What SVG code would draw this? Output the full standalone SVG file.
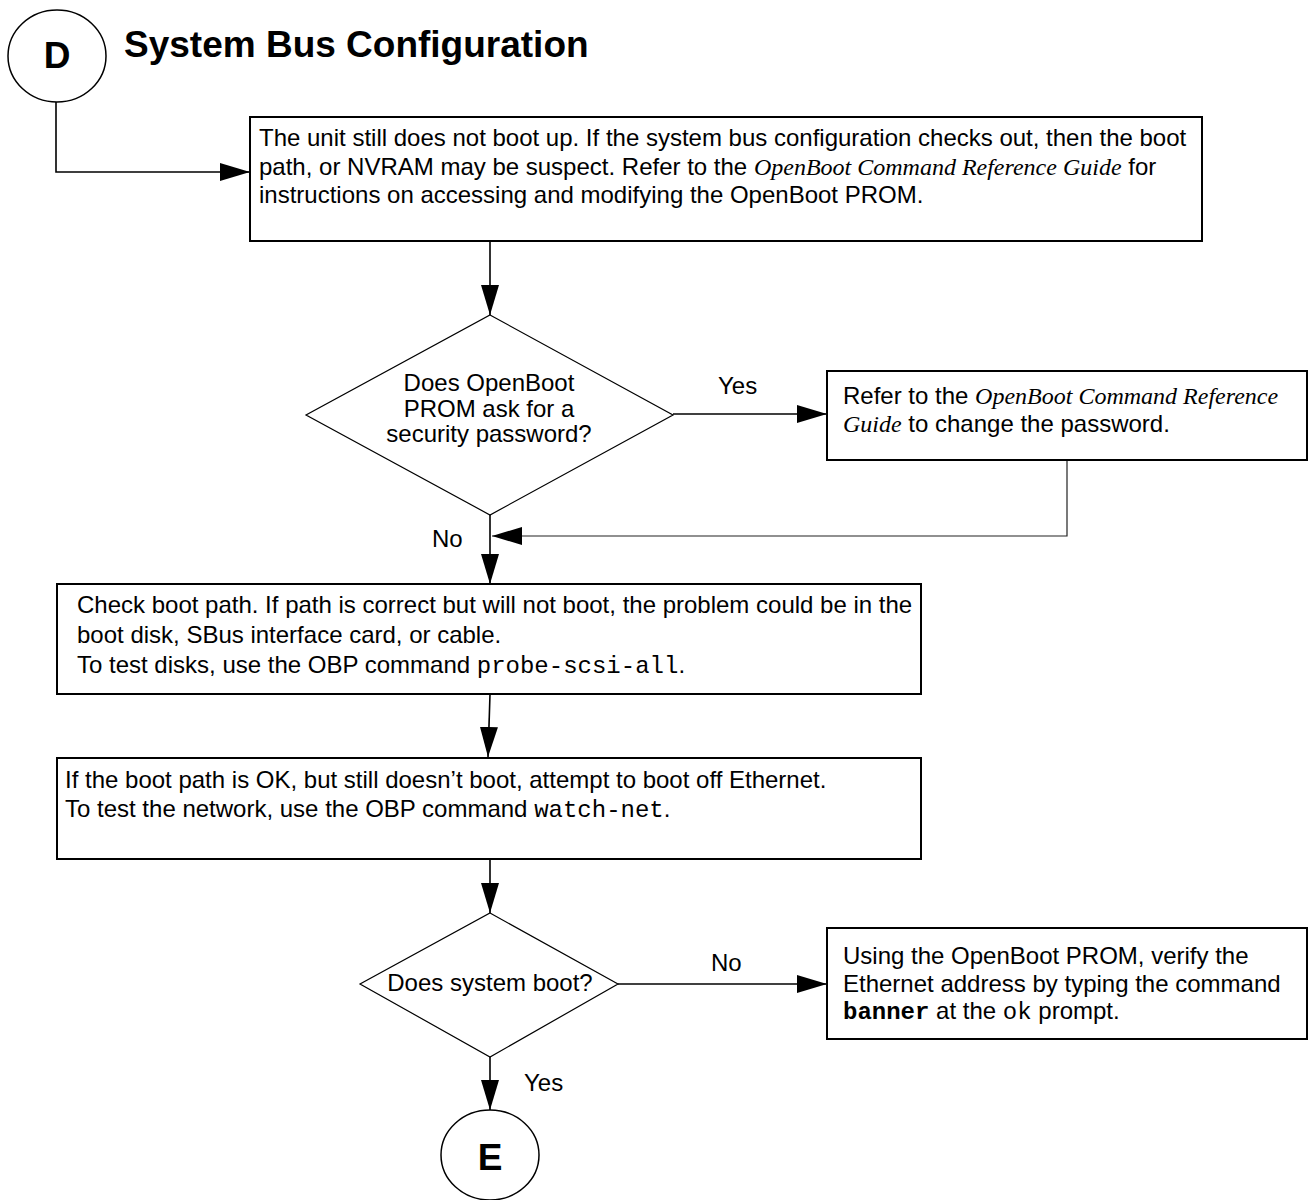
<svg xmlns="http://www.w3.org/2000/svg" width="1309" height="1200" viewBox="0 0 1309 1200">
<style>
.t{font-family:"Liberation Sans",Arial,Helvetica,sans-serif;font-size:24px;fill:#000}
.it{font-family:"Liberation Serif","Times New Roman",serif;font-style:italic}
.mono{font-family:"Liberation Mono","Courier New",monospace}
.b{font-weight:bold}
.box{fill:#fff;stroke:#000;stroke-width:2}
.dia{fill:#fff;stroke:#000;stroke-width:1.2}
.circ{fill:#fff;stroke:#000;stroke-width:1.5}
.big{font-family:"Liberation Sans",Arial,Helvetica,sans-serif;font-weight:bold;font-size:37px;fill:#000}
.con{fill:none;stroke:#000;stroke-width:1.6}
.thin{fill:none;stroke:#222;stroke-width:1.2}
</style>
<defs>
<marker id="ah" markerUnits="userSpaceOnUse" viewBox="0 0 30 18" refX="30" refY="9" markerWidth="30" markerHeight="18" orient="auto">
<path d="M0,0 L30,9 L0,18 Z" fill="#000"/>
</marker>
</defs>
<rect width="1309" height="1200" fill="#fff"/>

<g id="connectors">
<path class="con" d="M56,102 V172 H250" marker-end="url(#ah)"/>
<path class="con" d="M490,241 V315" marker-end="url(#ah)"/>
<path class="con" d="M673,414 H827" marker-end="url(#ah)"/>
<path class="thin" d="M1067,460 V536 H492" marker-end="url(#ah)"/>
<path class="con" d="M490,515 V584" marker-end="url(#ah)"/>
<path class="con" d="M490,694 L488,757" marker-end="url(#ah)"/>
<path class="con" d="M490,859 V913" marker-end="url(#ah)"/>
<path class="con" d="M618,984 H827" marker-end="url(#ah)"/>
<path class="con" d="M490,1057 V1110" marker-end="url(#ah)"/>
<text class="t" x="718" y="394">Yes</text>
<text class="t" x="432" y="547">No</text>
<text class="t" x="711" y="971">No</text>
<text class="t" x="524" y="1091">Yes</text>
</g>

<g id="start-D">
<ellipse class="circ" cx="57" cy="56" rx="49" ry="46"/>
<text class="big" x="57" y="68" text-anchor="middle">D</text>
</g>

<g id="title">
<text class="big" x="124" y="57">System Bus Configuration</text>
</g>

<g id="box1">
<rect class="box" x="250" y="117" width="952" height="124"/>
<text class="t" x="259" y="146">The unit still does not boot up. If the system bus configuration checks out, then the boot</text>
<text class="t" x="259" y="174.5">path, or NVRAM may be suspect. Refer to the <tspan class="it">OpenBoot Command Reference Guide</tspan> for</text>
<text class="t" x="259" y="203">instructions on accessing and modifying the OpenBoot PROM.</text>
</g>

<g id="decision1">
<polygon class="dia" points="490,315 673,415 490,515 306,415"/>
<text class="t" text-anchor="middle" x="489" y="390.5">Does OpenBoot</text>
<text class="t" text-anchor="middle" x="489" y="416.5">PROM ask for a</text>
<text class="t" text-anchor="middle" x="489" y="442">security password?</text>
</g>

<g id="box2">
<rect class="box" x="827" y="371" width="480" height="89"/>
<text class="t" x="843" y="404">Refer to the <tspan class="it">OpenBoot Command Reference</tspan></text>
<text class="t" x="843" y="432"><tspan class="it">Guide</tspan> to change the password.</text>
</g>

<g id="box3">
<rect class="box" x="57" y="584" width="864" height="110"/>
<text class="t" x="77" y="613">Check boot path. If path is correct but will not boot, the problem could be in the</text>
<text class="t" x="77" y="643">boot disk, SBus interface card, or cable.</text>
<text class="t" x="77" y="673">To test disks, use the OBP command <tspan class="mono">probe-scsi-all</tspan>.</text>
</g>

<g id="box4">
<rect class="box" x="57" y="758" width="864" height="101"/>
<text class="t" x="65" y="788">If the boot path is OK, but still doesn’t boot, attempt to boot off Ethernet.</text>
<text class="t" x="65" y="817">To test the network, use the OBP command <tspan class="mono">watch-net</tspan>.</text>
</g>

<g id="decision2">
<polygon class="dia" points="490,913 618,984 490,1057 360,984"/>
<text class="t" text-anchor="middle" x="490" y="991">Does system boot?</text>
</g>

<g id="box5">
<rect class="box" x="827" y="928" width="480" height="111"/>
<text class="t" x="843" y="964">Using the OpenBoot PROM, verify the</text>
<text class="t" x="843" y="992">Ethernet address by typing the command</text>
<text class="t" x="843" y="1019"><tspan class="mono b">banner</tspan> at the <tspan class="mono">ok</tspan> prompt.</text>
</g>

<g id="end-E">
<ellipse class="circ" cx="490" cy="1155" rx="49" ry="45"/>
<text class="big" x="490" y="1170" text-anchor="middle">E</text>
</g>
</svg>
